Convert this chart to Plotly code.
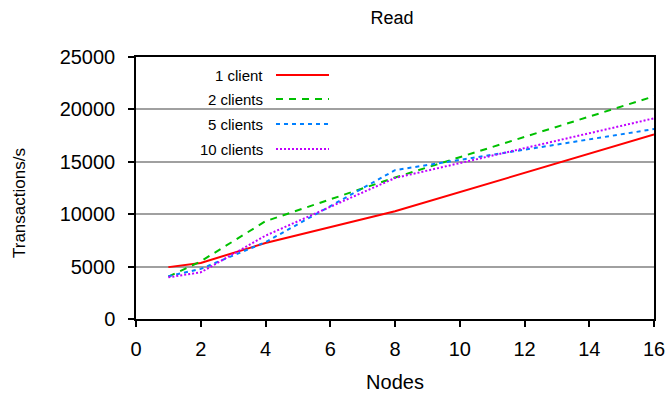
import plotly.graph_objects as go

# ---- data ----
nodes = [1, 2, 4, 8, 16]
series_names = ["1 client", "2 clients", "5 clients", "10 clients"]
tps_1_client = [4950, 5350, 7250, 10280, 17600]
tps_2_clients = [4050, 5500, 9330, 13500, 21250]
tps_5_clients = [4080, 4780, 7330, 14200, 18120]
tps_10_clients = [3980, 4450, 7950, 13450, 19150]
x_ticks = [0, 2, 4, 6, 8, 10, 12, 14, 16]
y_ticks = [0, 5000, 10000, 15000, 20000, 25000]
y_tick_labels = ["0", "5000", "10000", "15000", "20000", "25000"]

series_values = [tps_1_client, tps_2_clients, tps_5_clients, tps_10_clients]
colors = ["#ff0000", "#00c000", "#0080ff", "#c000ff"]
dashes = ["solid", "7px,6px", "4px,4px", "2px,2px"]

FONT = "Liberation Sans, Arial, Helvetica, sans-serif"
W, H = 670, 395
L, R, T, B = 136, 16, 57, 76
pw, ph = W - L - R, H - T - B

def px_x(p):
    return (p - L) / pw

def px_y(p):
    return (H - B - p) / ph

fig = go.Figure()
for name, vals, c, d in zip(series_names, series_values, colors, dashes):
    fig.add_trace(go.Scatter(x=nodes, y=vals, mode="lines", name=name,
                             line=dict(color=c, width=2, dash=d),
                             showlegend=False))

shapes = []
annotations = []
shapes.append(dict(type="rect", xref="paper", yref="paper",
                   x0=px_x(147), x1=px_x(341), y0=px_y(168), y1=px_y(58),
                   fillcolor="white", line=dict(width=0), layer="between"))
rows = [75, 99, 124, 149]
for name, c, d, ry in zip(series_names, colors, dashes, rows):
    annotations.append(dict(text=name, xref="paper", yref="paper",
                            x=px_x(265), y=px_y(ry), xanchor="right", yanchor="middle",
                            showarrow=False, font=dict(family=FONT, size=15, color="#000")))
    shapes.append(dict(type="line", xref="paper", yref="paper",
                       x0=px_x(276), x1=px_x(329), y0=px_y(ry), y1=px_y(ry),
                       line=dict(color=c, width=2, dash=d), layer="above"))

# y-axis title placed as rotated annotation (centred a bit below plot centre, like the reference)
annotations.append(dict(text="Transactions/s", xref="paper", yref="paper",
                        x=px_x(20), y=px_y(203), xanchor="center", yanchor="middle",
                        textangle=-90, showarrow=False,
                        font=dict(family=FONT, size=17, color="black")))

axis_common = dict(showline=True, linecolor="black", linewidth=1.5, mirror=True,
                   ticks="outside", ticklen=6, tickcolor="black", tickwidth=1.5,
                   tickfont=dict(family=FONT, size=20, color="black"),
                   zeroline=False, automargin=False)

fig.update_layout(
    width=W, height=H,
    margin=dict(l=L, r=R, t=T, b=B, autoexpand=False),
    paper_bgcolor="white", plot_bgcolor="white",
    title=dict(text="Read", x=0.5 * (L + W - R) / W - 3 / W, xanchor="center",
               y=1 - 18 / H, yanchor="middle",
               font=dict(family=FONT, size=18, color="black")),
    xaxis=dict(range=[0, 16], tickvals=x_ticks, showgrid=False,
               ticklabelstandoff=5,
               title=dict(text="Nodes", font=dict(family=FONT, size=20, color="black"),
                          standoff=16),
               **axis_common),
    yaxis=dict(range=[0, 25000], tickvals=y_ticks, ticktext=y_tick_labels, showgrid=True,
               gridcolor="#a0a0a0", gridwidth=2, ticklabelstandoff=9,
               **axis_common),
    shapes=shapes,
    annotations=annotations,
)

fig.write_html("out.html", config={"displayModeBar": False},
               post_script="document.body.style.margin='0';document.body.style.overflow='hidden';")
